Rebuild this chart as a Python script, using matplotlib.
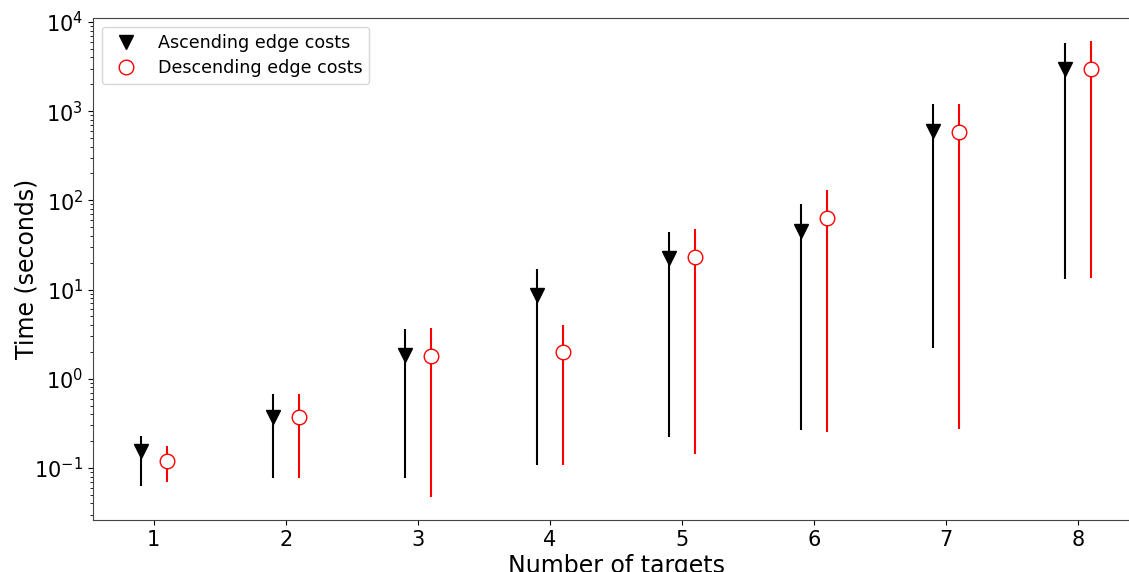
import numpy as np
import matplotlib
matplotlib.use("Agg")
import matplotlib.pyplot as plt

# number of targets
targets = np.array([1, 2, 3, 4, 5, 6, 7, 8])

# ascending edge costs: centre, upper, lower (seconds)
asc_mid = np.array([0.153, 0.376, 1.85, 8.7, 22.5, 45, 605, 2985])
asc_hi = np.array([0.23, 0.68, 3.62, 16.9, 43.9, 90, 1213, 5820])
asc_lo = np.array([0.062, 0.078, 0.078, 0.109, 0.225, 0.263, 2.22, 13.1])

# descending edge costs
desc_mid = np.array([0.121, 0.376, 1.8, 2.0, 23.0, 63, 590, 2985])
desc_hi = np.array([0.178, 0.68, 3.7, 4.0, 47.4, 129, 1213, 6140])
desc_lo = np.array([0.069, 0.078, 0.047, 0.109, 0.145, 0.25, 0.27, 13.4])

fig = plt.figure(figsize=(11.29, 5.72), dpi=100)
ax = fig.add_axes([93 / 1129, 52 / 572, 1046 / 1129, 502 / 572])

e1 = ax.errorbar(targets - 0.1, asc_mid, yerr=[asc_mid - asc_lo, asc_hi - asc_mid],
                 fmt='v', color='black', ms=10.5, elinewidth=1.5, capsize=0)
e2 = ax.errorbar(targets + 0.1, desc_mid, yerr=[desc_mid - desc_lo, desc_hi - desc_mid],
                 fmt='o', color='red', mfc='white', mec='red', ms=10.5, elinewidth=1.5,
                 capsize=0)

ax.set_yscale('log')
ax.set_xticks(targets)
ax.tick_params(labelsize=15)
ax.set_xlabel('Number of targets', fontsize=17, labelpad=3)
ax.set_ylabel('Time (seconds)', fontsize=17, labelpad=-3)
ax.legend([e1[0], e2[0]], ['Ascending edge costs', 'Descending edge costs'],
          loc='upper left', fontsize=12.6, borderaxespad=0.5, labelspacing=0.4)
for s in ax.spines.values():
    s.set_color('#444444')

fig.savefig('out.png', dpi=100)
